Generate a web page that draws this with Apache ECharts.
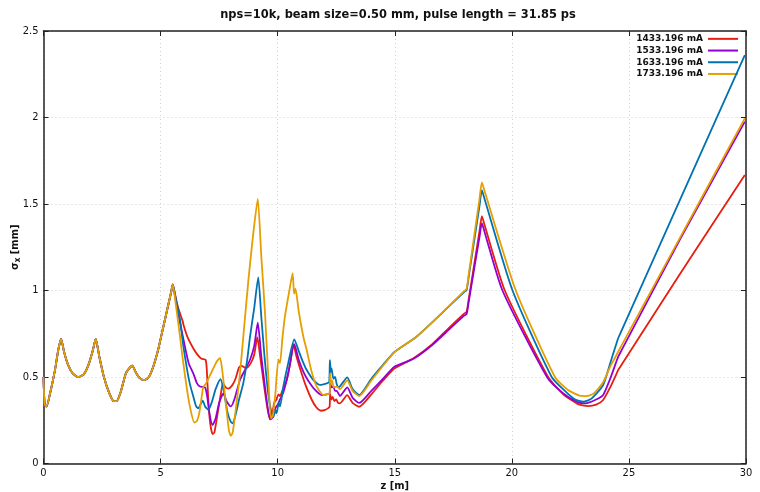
<!DOCTYPE html>
<html>
<head>
<meta charset="utf-8">
<script src="https://cdn.jsdelivr.net/npm/echarts@6/dist/echarts.min.js"></script>
<style>
  html, body { margin: 0; padding: 0; background: #fff; }
  #chart { width: 760px; height: 492px; }
</style>
</head>
<body>
<div id="chart"></div>
<script>
// Beam envelope sigma_x [mm] versus position z [m] for four beam currents.

const seriesNames = ['1433.196 mA', '1533.196 mA', '1633.196 mA', '1733.196 mA'];
const seriesColors = ['#e51e10', '#9400d3', '#0072b2', '#e69f00'];

const xTicks = [0, 5, 10, 15, 20, 25, 30];
const yTicks = [0, 0.5, 1, 1.5, 2, 2.5];

// Section shared by all currents (up to the quadrupole at z = 5.5 m)
const commonPart = [
  [0, 0.50], [0.05, 0.34], [0.13, 0.33], [0.28, 0.405], [0.49, 0.54], [0.63, 0.656], [0.75, 0.72],
  [0.88, 0.645], [1.05, 0.57], [1.25, 0.52], [1.49, 0.50], [1.72, 0.515], [1.92, 0.57], [2.1, 0.65],
  [2.23, 0.72], [2.38, 0.62], [2.58, 0.50], [2.8, 0.41], [3.0, 0.36], [3.12, 0.36], [3.3, 0.415],
  [3.5, 0.515], [3.6, 0.54], [3.79, 0.565], [3.95, 0.525], [4.1, 0.495], [4.29, 0.482], [4.5, 0.50],
  [4.7, 0.565], [4.9, 0.66], [5.1, 0.78], [5.3, 0.90], [5.45, 0.99], [5.52, 1.035]
];

const tail1433 = [
  [5.6, 0.99], [5.75, 0.90], [5.95, 0.82], [5.98, 0.80], [6.15, 0.73], [6.4, 0.665], [6.6, 0.625],
  [6.75, 0.605], [6.92, 0.60], [6.97, 0.55], [7.04, 0.36], [7.12, 0.23], [7.22, 0.17], [7.3, 0.18],
  [7.46, 0.31], [7.62, 0.44], [7.68, 0.46], [7.78, 0.44], [7.89, 0.433], [8.05, 0.45], [8.2, 0.49],
  [8.35, 0.555], [8.45, 0.565], [8.65, 0.55], [8.85, 0.58], [9.0, 0.63], [9.13, 0.73], [9.25, 0.62],
  [9.4, 0.47], [9.55, 0.33], [9.67, 0.255], [9.75, 0.27], [9.85, 0.35], [9.95, 0.37], [10.03, 0.40],
  [10.1, 0.39], [10.2, 0.42], [10.38, 0.48], [10.55, 0.59], [10.67, 0.69], [10.8, 0.62], [11.0, 0.53],
  [11.2, 0.45], [11.45, 0.37], [11.65, 0.325], [11.85, 0.305], [12.0, 0.308], [12.16, 0.32],
  [12.22, 0.33], [12.24, 0.40], [12.3, 0.37], [12.35, 0.385], [12.42, 0.36], [12.5, 0.37],
  [12.58, 0.35], [12.66, 0.348], [12.97, 0.395], [13.2, 0.35], [13.48, 0.328], [14.0, 0.40],
  [14.5, 0.48], [15.0, 0.55], [15.8, 0.608], [16.6, 0.69], [17.36, 0.79], [17.95, 0.865],
  [18.07, 0.877], [18.17, 0.96], [18.62, 1.345], [18.72, 1.43], [18.82, 1.386], [19.7, 1.0],
  [21.55, 0.5], [22.2, 0.40], [22.8, 0.345], [23.26, 0.332], [23.6, 0.34], [23.9, 0.367],
  [24.2, 0.44], [24.44, 0.51], [24.54, 0.54], [24.7, 0.574], [27.2, 1.10], [29.95, 1.668]
];

const tail1533 = [
  [5.6, 0.98], [5.75, 0.87], [6.04, 0.675], [6.2, 0.58], [6.4, 0.52], [6.55, 0.465], [6.68, 0.445],
  [6.9, 0.44], [7.0, 0.38], [7.1, 0.28], [7.22, 0.222], [7.35, 0.26], [7.5, 0.35], [7.68, 0.405],
  [7.82, 0.36], [8.0, 0.33], [8.15, 0.37], [8.39, 0.483], [8.6, 0.54], [8.82, 0.60], [9.0, 0.68],
  [9.15, 0.814], [9.3, 0.62], [9.45, 0.45], [9.6, 0.30], [9.7, 0.255], [9.8, 0.27], [9.9, 0.32],
  [10.0, 0.34], [10.1, 0.37], [10.24, 0.41], [10.45, 0.52], [10.71, 0.69], [10.9, 0.60], [11.1, 0.53],
  [11.3, 0.48], [11.6, 0.425], [11.88, 0.396], [12.1, 0.40], [12.22, 0.405], [12.24, 0.47],
  [12.3, 0.44], [12.38, 0.445], [12.45, 0.42], [12.52, 0.42], [12.66, 0.39], [12.97, 0.44],
  [13.2, 0.38], [13.48, 0.35], [14.0, 0.42], [14.5, 0.49], [15.0, 0.56], [15.8, 0.605],
  [16.6, 0.685], [17.36, 0.78], [17.95, 0.853], [18.07, 0.864], [18.17, 0.945], [18.62, 1.31],
  [18.72, 1.39], [18.82, 1.346], [19.6, 1.0], [21.5, 0.5], [22.2, 0.405], [22.8, 0.355],
  [23.15, 0.348], [23.6, 0.37], [23.9, 0.396], [24.2, 0.49], [24.44, 0.58], [24.54, 0.617],
  [24.7, 0.658], [27.2, 1.30], [29.95, 1.976]
];

const tail1633 = [
  [5.65, 0.95], [5.83, 0.83], [5.95, 0.70], [6.11, 0.56], [6.25, 0.46], [6.4, 0.386], [6.52, 0.33],
  [6.61, 0.32], [6.72, 0.345], [6.8, 0.363], [6.9, 0.33], [7.04, 0.31], [7.2, 0.36], [7.35, 0.43],
  [7.56, 0.487], [7.7, 0.42], [7.85, 0.30], [8.0, 0.24], [8.08, 0.232], [8.2, 0.28], [8.35, 0.37],
  [8.53, 0.463], [8.7, 0.60], [8.82, 0.733], [9.0, 0.90], [9.17, 1.076], [9.3, 0.85], [9.45, 0.60],
  [9.6, 0.40], [9.74, 0.29], [9.82, 0.27], [9.9, 0.31], [9.95, 0.29], [10.05, 0.35], [10.1, 0.33],
  [10.24, 0.444], [10.45, 0.58], [10.71, 0.718], [10.9, 0.65], [11.1, 0.58], [11.24, 0.54],
  [11.52, 0.483], [11.81, 0.454], [12.09, 0.463], [12.2, 0.47], [12.23, 0.598], [12.27, 0.53],
  [12.3, 0.55], [12.38, 0.49], [12.45, 0.50], [12.52, 0.46], [12.6, 0.44], [12.97, 0.498],
  [13.2, 0.43], [13.48, 0.396], [14.0, 0.49], [14.5, 0.57], [15.0, 0.646], [15.93, 0.733],
  [16.79, 0.84], [17.95, 0.99], [18.07, 1.003], [18.17, 1.09], [18.62, 1.49], [18.72, 1.58],
  [18.82, 1.536], [20.03, 1.0], [21.7, 0.5], [22.3, 0.415], [22.7, 0.37], [23.05, 0.357],
  [23.4, 0.375], [23.9, 0.454], [24.2, 0.58], [24.44, 0.682], [24.54, 0.724], [24.7, 0.772],
  [27.2, 1.53], [29.95, 2.36]
];

const tail1733 = [
  [5.65, 0.92], [5.83, 0.733], [5.95, 0.60], [6.11, 0.444], [6.25, 0.33], [6.44, 0.236],
  [6.55, 0.245], [6.65, 0.29], [6.75, 0.38], [6.82, 0.44], [6.95, 0.465], [7.18, 0.53], [7.4, 0.59],
  [7.54, 0.61], [7.65, 0.52], [7.8, 0.33], [7.92, 0.19], [8.0, 0.16], [8.08, 0.18], [8.2, 0.30],
  [8.39, 0.52], [8.55, 0.76], [8.75, 1.06], [8.95, 1.32], [9.15, 1.529], [9.3, 1.20], [9.46, 0.868],
  [9.6, 0.50], [9.71, 0.26], [9.8, 0.28], [9.9, 0.40], [10.03, 0.60], [10.1, 0.58], [10.2, 0.72],
  [10.31, 0.85], [10.5, 1.0], [10.64, 1.10], [10.7, 0.98], [10.76, 1.01], [10.9, 0.88], [11.1, 0.73],
  [11.24, 0.656], [11.45, 0.53], [11.67, 0.444], [11.95, 0.396], [12.1, 0.40], [12.22, 0.405],
  [12.24, 0.52], [12.28, 0.47], [12.32, 0.48], [12.4, 0.44], [12.52, 0.444], [12.66, 0.43],
  [12.97, 0.48], [13.2, 0.42], [13.48, 0.39], [14.0, 0.48], [14.5, 0.565], [15.0, 0.645],
  [15.93, 0.733], [16.79, 0.84], [17.95, 0.995], [18.07, 1.01], [18.17, 1.105], [18.62, 1.53],
  [18.72, 1.625], [18.82, 1.582], [20.17, 1.0], [21.84, 0.5], [22.4, 0.425], [22.9, 0.392],
  [23.19, 0.39], [23.5, 0.405], [23.9, 0.47], [24.2, 0.56], [24.44, 0.62], [24.54, 0.646],
  [24.7, 0.686], [27.2, 1.31], [29.95, 1.995]
];

const tails = [tail1433, tail1533, tail1633, tail1733];

const labelFont = 'DejaVu Sans Condensed';
const chart = echarts.init(document.getElementById('chart'), null, { renderer: 'canvas' });

const frameLine = { show: true, onZero: false, lineStyle: { color: '#222', width: 1.5 } };
const innerTick = { show: true, inside: true, length: 5, lineStyle: { color: '#222', width: 1 } };
const dotted = { show: true, lineStyle: { color: '#d0d0d0', type: [1, 3], width: 1 } };

chart.setOption({
  animation: false,
  backgroundColor: '#fff',
  title: {
    text: 'nps=10k, beam size=0.50 mm, pulse length = 31.85 ps',
    left: 393, top: 3, textAlign: 'center',
    textStyle: { fontFamily: labelFont, fontWeight: 'bold', fontSize: 12.7, color: '#111' }
  },
  legend: {
    orient: 'vertical', right: 22, top: 33, align: 'right', padding: 0,
    icon: 'rect', itemWidth: 30, itemHeight: 2, itemGap: 0,
    textStyle: { fontFamily: 'DejaVu Sans', fontWeight: 'bold', fontSize: 9, color: '#111', lineHeight: 11.7 },
    data: seriesNames
  },
  grid: { left: 43.5, right: 14, top: 31, bottom: 28.5, outerBoundsMode: 'none', containLabel: false },
  xAxis: [{
    type: 'value', min: xTicks[0], max: xTicks[xTicks.length - 1], interval: 5,
    name: 'z [m]', nameLocation: 'middle', nameGap: 17, nameMoveOverlap: false,
    nameTextStyle: { fontFamily: labelFont, fontWeight: 'bold', fontSize: 11, color: '#111' },
    axisLine: frameLine, axisTick: innerTick, splitLine: dotted,
    axisLabel: { fontFamily: labelFont, fontSize: 11, color: '#111', margin: 4 }
  }, {
    type: 'value', position: 'top', min: xTicks[0], max: xTicks[xTicks.length - 1], interval: 5,
    axisLine: frameLine, axisTick: innerTick, splitLine: { show: false }, axisLabel: { show: false }
  }],
  yAxis: [{
    type: 'value', min: yTicks[0], max: yTicks[yTicks.length - 1], interval: 0.5,
    name: '{s|σ}{sub|x}{s| [mm]}', nameLocation: 'middle', nameGap: 22, nameRotate: 90,
    nameMoveOverlap: false,
    nameTextStyle: {
      rich: {
        s: { fontFamily: labelFont, fontWeight: 'bold', fontSize: 11, color: '#111' },
        sub: { fontFamily: labelFont, fontWeight: 'bold', fontSize: 8, color: '#111', padding: [5, 0, 0, 0] }
      }
    },
    axisLine: frameLine, axisTick: innerTick, splitLine: dotted,
    axisLabel: { fontFamily: labelFont, fontSize: 11, color: '#111', margin: 5 }
  }, {
    type: 'value', position: 'right', min: yTicks[0], max: yTicks[yTicks.length - 1], interval: 0.5,
    axisLine: frameLine, axisTick: innerTick, splitLine: { show: false }, axisLabel: { show: false }
  }],
  series: seriesNames.map((name, i) => ({
    name: name,
    type: 'line',
    data: commonPart.concat(tails[i]),
    showSymbol: false,
    symbol: 'none',
    smooth: 0.2,
    color: seriesColors[i],
    lineStyle: { color: seriesColors[i], width: 1.8 },
    z: 2 + i
  }))
});
</script>
</body>
</html>
